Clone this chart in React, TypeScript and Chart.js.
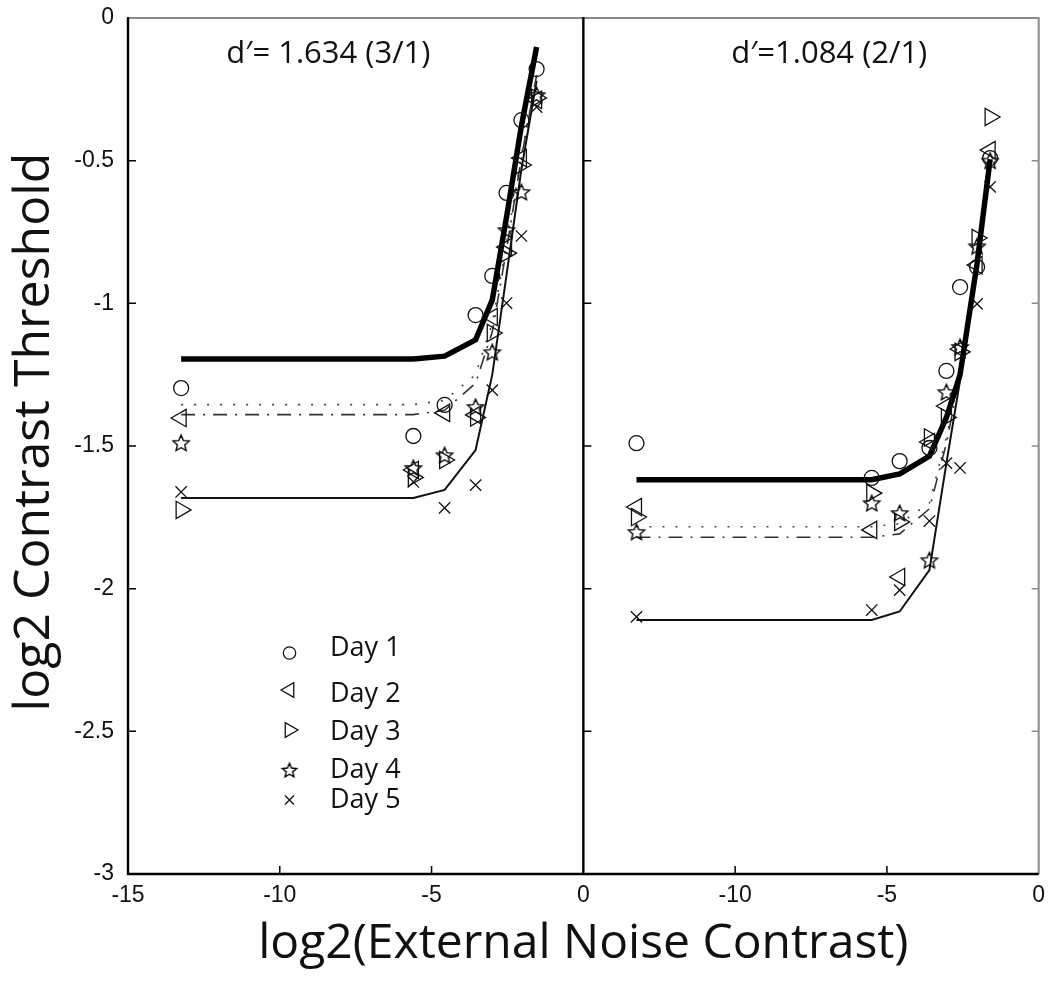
import React, { useEffect, useRef } from "react";
import { Chart, registerables } from "chart.js";

Chart.register(...registerables);

// ---- data (log2 external-noise contrast levels) ----
const noiseLeft = [-13.25, -5.6, -4.57, -3.55, -3.0, -2.53, -2.04, -1.54];
const noiseRight = [-13.25, -5.5, -4.58, -3.6, -3.04, -2.59, -2.03, -1.6];

const dayLabels = ["Day 1", "Day 2", "Day 3", "Day 4", "Day 5"];
const panelTitles = ["d\u2032= 1.634 (3/1)", "d\u2032=1.084 (2/1)"];
const yAxisTitle = "log2 Contrast Threshold";
const xAxisTitle = "log2(External Noise Contrast)";

// left panel: observed log2 thresholds per day
const leftDay1 = [-1.297, -1.465, -1.356, -1.041, -0.904, -0.613, -0.358, -0.179];
const leftDay2 = [-1.402, -1.584, -1.384, -1.391, -1.048, -0.803, -0.491, -0.287];
const leftDay3 = [-1.724, -1.61, -1.549, -1.4, -1.104, -0.824, -0.515, -0.28];
const leftDay4 = [-1.489, -1.577, -1.532, -1.363, -1.171, -0.743, -0.61, -0.27];
const leftDay5 = [-1.661, -1.626, -1.717, -1.637, -1.304, -0.999, -0.764, -0.312];

// left panel: model fits
const leftFitThick = [-1.195, -1.195, -1.185, -1.128, -0.988, -0.697, -0.378, -0.102];
const leftFitDotted = [-1.355, -1.355, -1.34, -1.25, -1.07, -0.79, -0.48, -0.2];
const leftFitDashDot = [-1.39, -1.39, -1.375, -1.28, -1.1, -0.81, -0.49, -0.2];
const leftFitThin = [-1.682, -1.682, -1.654, -1.514, -1.25, -0.9, -0.53, -0.22];

// right panel: observed log2 thresholds per day
const rightDay1 = [-1.49, -1.612, -1.553, -1.507, -1.237, -0.943, -0.873, -0.491];
const rightDay2 = [-1.714, -1.794, -1.959, -1.486, -1.36, -1.16, -0.866, -0.463];
const rightDay3 = [-1.749, -1.665, -1.766, -1.47, -1.4, -1.17, -0.771, -0.347];
const rightDay4 = [-1.801, -1.7, -1.735, -1.9, -1.311, -1.153, -0.8, -0.5];
const rightDay5 = [-2.099, -2.075, -2.005, -1.763, -1.56, -1.577, -1.002, -0.592];

// right panel: model fits
const rightFitThick = [-1.618, -1.618, -1.598, -1.535, -1.4, -1.25, -0.86, -0.495];
const rightFitDotted = [-1.783, -1.783, -1.772, -1.7, -1.47, -1.24, -0.87, -0.5];
const rightFitDashDot = [-1.82, -1.82, -1.808, -1.72, -1.49, -1.25, -0.87, -0.5];
const rightFitThin = [-2.11, -2.11, -2.08, -1.935, -1.56, -1.27, -0.88, -0.51];

// the two panels share one x axis; the right panel is shifted by this much
const PANEL_SHIFT = 15;

const TICK_FONT = '"Liberation Sans", Arial, sans-serif';
const TEXT_FONT = '"Open Sans", "Noto Sans", sans-serif';
const INK = "#111";

function makeStar(size: number, outer: number, inner: number, lw: number) {
  const c = document.createElement("canvas");
  c.width = size;
  c.height = size;
  const g = c.getContext("2d")!;
  g.strokeStyle = "#000";
  g.lineWidth = lw;
  g.lineJoin = "miter";
  g.beginPath();
  for (let i = 0; i < 10; i++) {
    const r = i % 2 === 0 ? outer : inner;
    const a = -Math.PI / 2 + (i * Math.PI) / 5;
    const px = size / 2 + r * Math.cos(a);
    const py = size / 2 + r * Math.sin(a) + 0.8;
    if (i === 0) g.moveTo(px, py);
    else g.lineTo(px, py);
  }
  g.closePath();
  g.stroke();
  return c;
}

function pts(xs: number[], ys: number[], shift: number) {
  return xs.map((x, i) => ({ x: x + shift, y: ys[i] }));
}

export default function App() {
  const ref = useRef<HTMLCanvasElement>(null);

  useEffect(() => {
    const canvas = ref.current!;
    const star = makeStar(22, 8.5, 3.9, 1.4);
    const legendStar = makeStar(20, 7.5, 3.4, 1.4);

    const markers: any[] = [
      { style: "circle", radius: 7.5, rotation: 0 },
      { style: "triangle", radius: 10, rotation: -90 },
      { style: "triangle", radius: 10, rotation: 90 },
      { style: star, radius: 9, rotation: 0 },
      { style: "crossRot", radius: 8, rotation: 0 },
    ];

    const leftDays = [leftDay1, leftDay2, leftDay3, leftDay4, leftDay5];
    const rightDays = [rightDay1, rightDay2, rightDay3, rightDay4, rightDay5];

    const datasets: any[] = [];
    const addPanelMarkers = (xs: number[], days: number[][], shift: number) => {
      days.forEach((ys, d) => {
        datasets.push({
          label: dayLabels[d],
          data: pts(xs, ys, shift),
          showLine: false,
          pointStyle: markers[d].style,
          pointRadius: markers[d].radius,
          pointRotation: markers[d].rotation,
          pointBorderColor: INK,
          pointBackgroundColor: "rgba(0,0,0,0)",
          pointBorderWidth: 1.3,
        });
      });
    };
    addPanelMarkers(noiseLeft, leftDays, 0);
    addPanelMarkers(noiseRight, rightDays, PANEL_SHIFT);

    const lineStyles = [
      { width: 5.5, dash: [] as number[], color: "#000" },
      { width: 1.6, dash: [2, 11], color: "#444" },
      { width: 1.6, dash: [14, 8, 2, 8], color: "#333" },
      { width: 2, dash: [] as number[], color: "#111" },
    ];
    const addPanelFits = (xs: number[], fits: number[][], shift: number) => {
      fits.forEach((ys, k) => {
        datasets.push({
          label: "fit",
          data: pts(xs, ys, shift),
          showLine: true,
          borderColor: lineStyles[k].color,
          borderWidth: lineStyles[k].width,
          borderDash: lineStyles[k].dash,
          pointRadius: 0,
          tension: 0,
          fill: false,
        });
      });
    };
    addPanelFits(noiseLeft, [leftFitThick, leftFitDotted, leftFitDashDot, leftFitThin], 0);
    addPanelFits(noiseRight, [rightFitThick, rightFitDotted, rightFitDashDot, rightFitThin], PANEL_SHIFT);

    const framePlugin = {
      id: "frame",
      afterDatasetsDraw(chart: any) {
        const { ctx, chartArea, scales } = chart;
        const { left, right, top, bottom } = chartArea;
        const xs = scales.x;
        const ys = scales.y;
        const mid = xs.getPixelForValue(0);
        ctx.save();
        ctx.lineCap = "butt";
        // grey outer top/right
        ctx.strokeStyle = "#8c8c8c";
        ctx.lineWidth = 2;
        ctx.beginPath();
        ctx.moveTo(left, top);
        ctx.lineTo(right, top);
        ctx.lineTo(right, bottom);
        ctx.stroke();
        // black left, bottom, middle divider
        ctx.strokeStyle = "#000";
        ctx.lineWidth = 2.4;
        ctx.beginPath();
        ctx.moveTo(left, top - 1);
        ctx.lineTo(left, bottom);
        ctx.lineTo(right, bottom);
        ctx.moveTo(mid, top - 1);
        ctx.lineTo(mid, bottom);
        ctx.stroke();
        // inward ticks
        ctx.lineWidth = 1.5;
        ctx.beginPath();
        ys.ticks.forEach((t: any) => {
          const py = ys.getPixelForValue(t.value);
          if (Math.abs(py - top) < 2 || Math.abs(py - bottom) < 2) return;
          ctx.moveTo(left, py);
          ctx.lineTo(left + 8, py);
          ctx.moveTo(mid, py);
          ctx.lineTo(mid + 8, py);
        });
        xs.ticks.forEach((t: any) => {
          const px = xs.getPixelForValue(t.value);
          if (Math.abs(px - left) < 2 || Math.abs(px - right) < 2 || Math.abs(px - mid) < 2) return;
          ctx.moveTo(px, bottom);
          ctx.lineTo(px, bottom - 8);
        });
        ctx.stroke();
        ctx.strokeStyle = "#8c8c8c";
        ctx.beginPath();
        ys.ticks.forEach((t: any) => {
          const py = ys.getPixelForValue(t.value);
          if (Math.abs(py - top) < 2 || Math.abs(py - bottom) < 2) return;
          ctx.moveTo(right, py);
          ctx.lineTo(right - 7, py);
        });
        ctx.stroke();

        // y axis title (rotated)
        ctx.fillStyle = INK;
        ctx.save();
        ctx.translate(35, (top + bottom) / 2 - 14);
        ctx.rotate(-Math.PI / 2);
        ctx.font = `50px ${TEXT_FONT}`;
        ctx.textAlign = "center";
        ctx.textBaseline = "middle";
        ctx.fillText(yAxisTitle, 0, 0);
        ctx.restore();

        // panel titles
        ctx.font = `31px ${TEXT_FONT}`;
        ctx.textAlign = "center";
        ctx.textBaseline = "middle";
        const titleY = ys.getPixelForValue(-0.128);
        ctx.fillText(panelTitles[0], xs.getPixelForValue(-8.4), titleY);
        ctx.fillText(panelTitles[1], xs.getPixelForValue(-6.9 + PANEL_SHIFT), titleY);

        // legend inside left panel
        const mx = left + 161.5;
        const tx = left + 202;
        const markerY = [635, 672, 712, 752, 782];
        const textBase = [638, 684, 722, 760, 790];
        ctx.strokeStyle = INK;
        ctx.lineWidth = 1.3;
        for (let d = 0; d < 5; d++) {
          const cy = top + markerY[d];
          ctx.beginPath();
          if (d === 0) {
            ctx.arc(mx, cy, 6.2, 0, Math.PI * 2);
            ctx.stroke();
          } else if (d === 1 || d === 2) {
            const rot = d === 1 ? -Math.PI / 2 : Math.PI / 2;
            const r = 8.5;
            for (let i = 0; i < 3; i++) {
              const a = rot + (i * 2 * Math.PI) / 3;
              const px = mx + Math.sin(a) * r;
              const py = cy - Math.cos(a) * r;
              if (i === 0) ctx.moveTo(px, py);
              else ctx.lineTo(px, py);
            }
            ctx.closePath();
            ctx.stroke();
          } else if (d === 3) {
            ctx.drawImage(legendStar, mx - legendStar.width / 2, cy - legendStar.height / 2);
          } else {
            const h = 4.5;
            ctx.moveTo(mx - h, cy - h);
            ctx.lineTo(mx + h, cy + h);
            ctx.moveTo(mx + h, cy - h);
            ctx.lineTo(mx - h, cy + h);
            ctx.stroke();
          }
        }
        ctx.font = `27px ${TEXT_FONT}`;
        ctx.textAlign = "left";
        ctx.textBaseline = "alphabetic";
        for (let d = 0; d < 5; d++) {
          ctx.fillText(dayLabels[d], tx, top + textBase[d]);
        }
        ctx.restore();
      },
    };

    const chart = new Chart(canvas, {
      type: "line",
      data: { datasets },
      options: {
        animation: false,
        responsive: false,
        maintainAspectRatio: false,
        events: [],
        layout: { padding: { top: 18, right: 8, left: 0, bottom: 0 } },
        plugins: {
          legend: { display: false },
          tooltip: { enabled: false },
        },
        scales: {
          x: {
            type: "linear",
            min: -15,
            max: 15,
            grid: { display: false, drawTicks: false },
            border: { display: false },
            ticks: {
              stepSize: 5,
              maxRotation: 0,
              autoSkip: false,
              padding: 8,
              color: INK,
              font: { family: TICK_FONT, size: 23 },
              callback: (v: any) => String(v <= 0 ? v : v - PANEL_SHIFT),
            },
            title: {
              display: true,
              text: xAxisTitle,
              color: INK,
              font: { family: TEXT_FONT, size: 48 },
              padding: { top: 0, bottom: 20 },
            },
            afterFit: (s: any) => {
              s.height = 119;
              s.paddingLeft = 0;
              s.paddingRight = 0;
            },
          },
          y: {
            type: "linear",
            min: -3,
            max: 0,
            grid: { display: false, drawTicks: false },
            border: { display: false },
            ticks: {
              stepSize: 0.5,
              padding: 14,
              color: INK,
              font: { family: TICK_FONT, size: 23 },
              callback: (v: any) => String(v),
            },
            title: { display: false },
            afterFit: (s: any) => {
              s.width = 128;
              s.paddingTop = 0;
              s.paddingBottom = 0;
            },
          },
        },
      },
      plugins: [framePlugin],
    } as any);

    return () => chart.destroy();
  }, []);

  return (
    <div style={{ position: "absolute", left: 0, top: 0, width: 1050, height: 993, background: "#fff" }}>
      <canvas ref={ref} width={1050} height={993} style={{ display: "block", width: 1050, height: 993 }} />
    </div>
  );
}
